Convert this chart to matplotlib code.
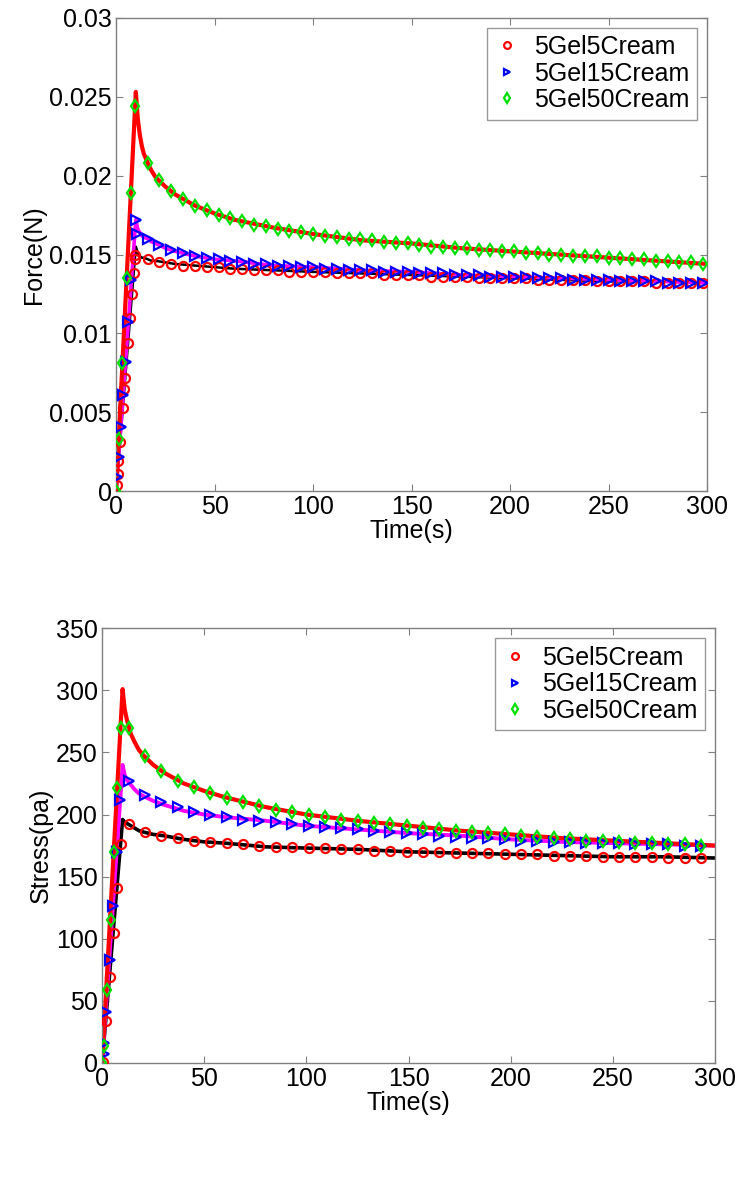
import numpy as np
import matplotlib.pyplot as plt

plt.rcParams['font.family'] = ['Liberation Sans', 'DejaVu Sans']

labels = ['5Gel5Cream', '5Gel15Cream', '5Gel50Cream']

# ---------- Force panel ----------
f_rise_t = {
    '5Gel5Cream': [0.3, 0.7, 1.2, 2.0, 3.4, 4.2, 4.6, 6.1, 7.1, 8.1, 8.9, 9.5, 9.7],
    '5Gel15Cream': [0.5, 1.3, 2.4, 3.5, 4.8, 6.2, 7.8, 10.0, 10.5],
    '5Gel50Cream': [0.0, 1.3, 3.2, 5.3, 7.5, 9.6],
}
f_rise_v = {
    '5Gel5Cream': [0.0004, 0.0011, 0.0019, 0.0031, 0.0053, 0.0065, 0.0072, 0.0094,
                   0.0110, 0.0125, 0.0138, 0.0147, 0.0150],
    '5Gel15Cream': [0.0009, 0.0022, 0.0041, 0.0061, 0.0082, 0.0107, 0.0134, 0.0172, 0.0163],
    '5Gel50Cream': [0.0, 0.0033, 0.0081, 0.0135, 0.0189, 0.0244],
}
f_decay_t = np.arange(16, 300, 6)
f_decay_v = {
    '5Gel5Cream': [.0147, .0145, .0144, .0143, .0143, .0142, .0142, .0141, .0141, .0140,
                   .0140, .0140, .0139, .0139, .0139, .0139, .0138, .0138, .0138, .0138,
                   .0137, .0137, .0137, .0137, .0136, .0136, .0136, .0136, .0135, .0135,
                   .0135, .0135, .0135, .0134, .0134, .0134, .0134, .0134, .0133, .0133,
                   .0133, .0133, .0133, .0132, .0132, .0132, .0132, .0132],
    '5Gel15Cream': [.0160, .0156, .0153, .0151, .0149, .0148, .0147, .0146, .0145, .0144,
                    .0144, .0143, .0143, .0142, .0142, .0141, .0141, .0140, .0140, .0140,
                    .0139, .0139, .0139, .0138, .0138, .0138, .0137, .0137, .0137, .0136,
                    .0136, .0136, .0136, .0135, .0135, .0135, .0134, .0134, .0134, .0134,
                    .0133, .0133, .0133, .0133, .0132, .0132, .0132, .0132],
    '5Gel50Cream': [.0208, .0197, .0190, .0185, .0181, .0178, .0175, .0173, .0171, .0169,
                    .0168, .0166, .0165, .0164, .0163, .0162, .0161, .0160, .0160, .0159,
                    .0158, .0157, .0157, .0156, .0155, .0155, .0154, .0154, .0153, .0153,
                    .0152, .0152, .0151, .0151, .0150, .0150, .0149, .0149, .0149, .0148,
                    .0148, .0147, .0147, .0146, .0146, .0145, .0145, .0144],
}
fit_t = [0, 10, 11, 12, 13, 14, 16, 18, 20, 25, 30, 40, 50, 60, 80, 100, 125, 150,
         175, 200, 225, 250, 275, 300]
f_fit_v = {
    '5Gel5Cream': [0, .0155, .0151, .0149, .0148, .0148, .0147, .0146, .0146, .0145, .0144,
                   .0143, .0142, .0141, .0140, .0139, .0138, .0137, .0136, .0135, .0134,
                   .0133, .0133, .0132],
    '5Gel15Cream': [0, .0172, .0166, .0164, .0162, .0161, .0160, .0158, .0157, .0154, .0152,
                    .0149, .0147, .0146, .0143, .0142, .0140, .0139, .0137, .0136, .0135,
                    .0134, .0133, .0132],
    '5Gel50Cream': [0, .0253, .0236, .0226, .0219, .0214, .0208, .0203, .0199, .0193, .0188,
                    .0181, .0176, .0172, .0167, .0163, .0159, .0157, .0154, .0152, .0150,
                    .0148, .0146, .0144],
}
f_yticks = [0, 0.005, 0.01, 0.015, 0.02, 0.025, 0.03]
f_yticklabels = ['0', '0.005', '0.01', '0.015', '0.02', '0.025', '0.03']

# ---------- Stress panel ----------
s_rise_t = {
    '5Gel5Cream': [0.3, 2.1, 3.8, 5.6, 7.3, 9.0],
    '5Gel15Cream': [0.8, 1.1, 2.1, 3.8, 5.5, 7.2, 8.9],
    '5Gel50Cream': [0.0, 0.95, 2.4, 4.1, 5.9, 7.5, 9.0],
}
s_rise_v = {
    '5Gel5Cream': [1, 34, 69, 105, 141, 176],
    '5Gel15Cream': [7, 16, 41, 83, 126, 170, 212],
    '5Gel50Cream': [0, 14, 59, 115, 170, 221, 270],
}
s_decay_t = np.arange(13, 300, 8)
s_decay_v = {
    '5Gel5Cream': [192, 186, 183, 181, 179, 178, 177, 176, 175, 174, 174, 173, 173, 172,
                   172, 171, 171, 170, 170, 170, 169, 169, 169, 168, 168, 168, 167, 167,
                   167, 166, 166, 166, 166, 165, 165, 165],
    '5Gel15Cream': [227, 216, 210, 206, 202, 200, 198, 196, 195, 194, 192, 191, 190, 189,
                    188, 187, 186, 185, 184, 183, 182, 181, 181, 180, 179, 179, 178, 178,
                    177, 177, 177, 176, 176, 176, 175, 175],
    '5Gel50Cream': [270, 247, 235, 227, 222, 217, 213, 210, 207, 204, 202, 200, 198, 196,
                    195, 193, 192, 191, 189, 188, 187, 186, 185, 184, 183, 182, 181, 180,
                    179, 179, 178, 177, 177, 176, 176, 175],
}
s_fit_v = {
    '5Gel5Cream': [0, 196, 194, 193, 192, 191, 189, 187, 186, 184, 183, 180, 178, 177, 174,
                   173, 172, 170, 169, 168, 167, 166, 166, 165],
    '5Gel15Cream': [0, 240, 232, 228, 226, 224, 220, 217, 215, 211, 208, 203, 200, 198, 195,
                    191, 188, 185, 183, 180, 178, 177, 176, 175],
    '5Gel50Cream': [0, 301, 285, 277, 271, 265, 258, 252, 248, 240, 234, 225, 219, 214, 206,
                    200, 195, 191, 187, 184, 181, 179, 177, 175],
}
s_yticks = [0, 50, 100, 150, 200, 250, 300, 350]
xticks = [0, 50, 100, 150, 200, 250, 300]

marker_style = {
    '5Gel5Cream': dict(marker='o', color='#ff0000'),
    '5Gel15Cream': dict(marker='>', color='#0000ff'),
    '5Gel50Cream': dict(marker='d', color='#00e000'),
}
fit_color = {'5Gel5Cream': 'black', '5Gel15Cream': '#ff00ff', '5Gel50Cream': '#ff0000'}

FS = 18
fig = plt.figure(figsize=(7.35, 11.81), dpi=100)
ax1 = fig.add_axes([0.158, 0.584, 0.804, 0.401])
ax2 = fig.add_axes([0.139, 0.100, 0.834, 0.368])


def draw(ax, rise_t, rise_v, decay_t, decay_v, fit_v, lws):
    for name in labels:
        ax.plot(fit_t, fit_v[name], color=fit_color[name], lw=lws[name], zorder=2)
    for name in labels:
        ms = marker_style[name]
        t = list(rise_t[name]) + list(decay_t)
        v = list(rise_v[name]) + list(decay_v[name])
        ax.plot(t, v, linestyle='none', marker=ms['marker'], mfc='none',
                mec=ms['color'], mew=1.6, ms=6.5, label=name, zorder=3)
    ax.set_xlim(0, 300)
    ax.set_xticks(xticks)
    ax.set_xticklabels([str(x) for x in xticks])
    ax.set_xlabel('Time(s)', fontsize=FS, labelpad=0)
    ax.tick_params(direction='in', top=True, right=True, labelsize=FS, length=5,
                   color='#808080', pad=3)
    for sp in ax.spines.values():
        sp.set_color('#808080')
        sp.set_linewidth(1.0)
    leg = ax.legend(loc='upper right', fontsize=FS, frameon=True, fancybox=False,
                    handlelength=1.0, handletextpad=0.6, borderpad=0.3,
                    labelspacing=0.1, borderaxespad=0.4, markerscale=0.75)
    leg.get_frame().set_edgecolor('#808080')
    leg.get_frame().set_linewidth(1.0)


draw(ax1, f_rise_t, f_rise_v, f_decay_t, f_decay_v, f_fit_v,
     {'5Gel5Cream': 1.8, '5Gel15Cream': 2.6, '5Gel50Cream': 3.0})
ax1.set_ylim(0, 0.03)
ax1.set_yticks(f_yticks)
ax1.set_yticklabels(f_yticklabels)
ax1.set_ylabel('Force(N)', fontsize=FS, labelpad=2)

draw(ax2, s_rise_t, s_rise_v, s_decay_t, s_decay_v, s_fit_v,
     {'5Gel5Cream': 2.6, '5Gel15Cream': 2.8, '5Gel50Cream': 3.0})
ax2.set_ylim(0, 350)
ax2.set_yticks(s_yticks)
ax2.set_yticklabels([str(y) for y in s_yticks])
ax2.set_ylabel('Stress(pa)', fontsize=FS, labelpad=2)

fig.savefig('out.png', dpi=100)
